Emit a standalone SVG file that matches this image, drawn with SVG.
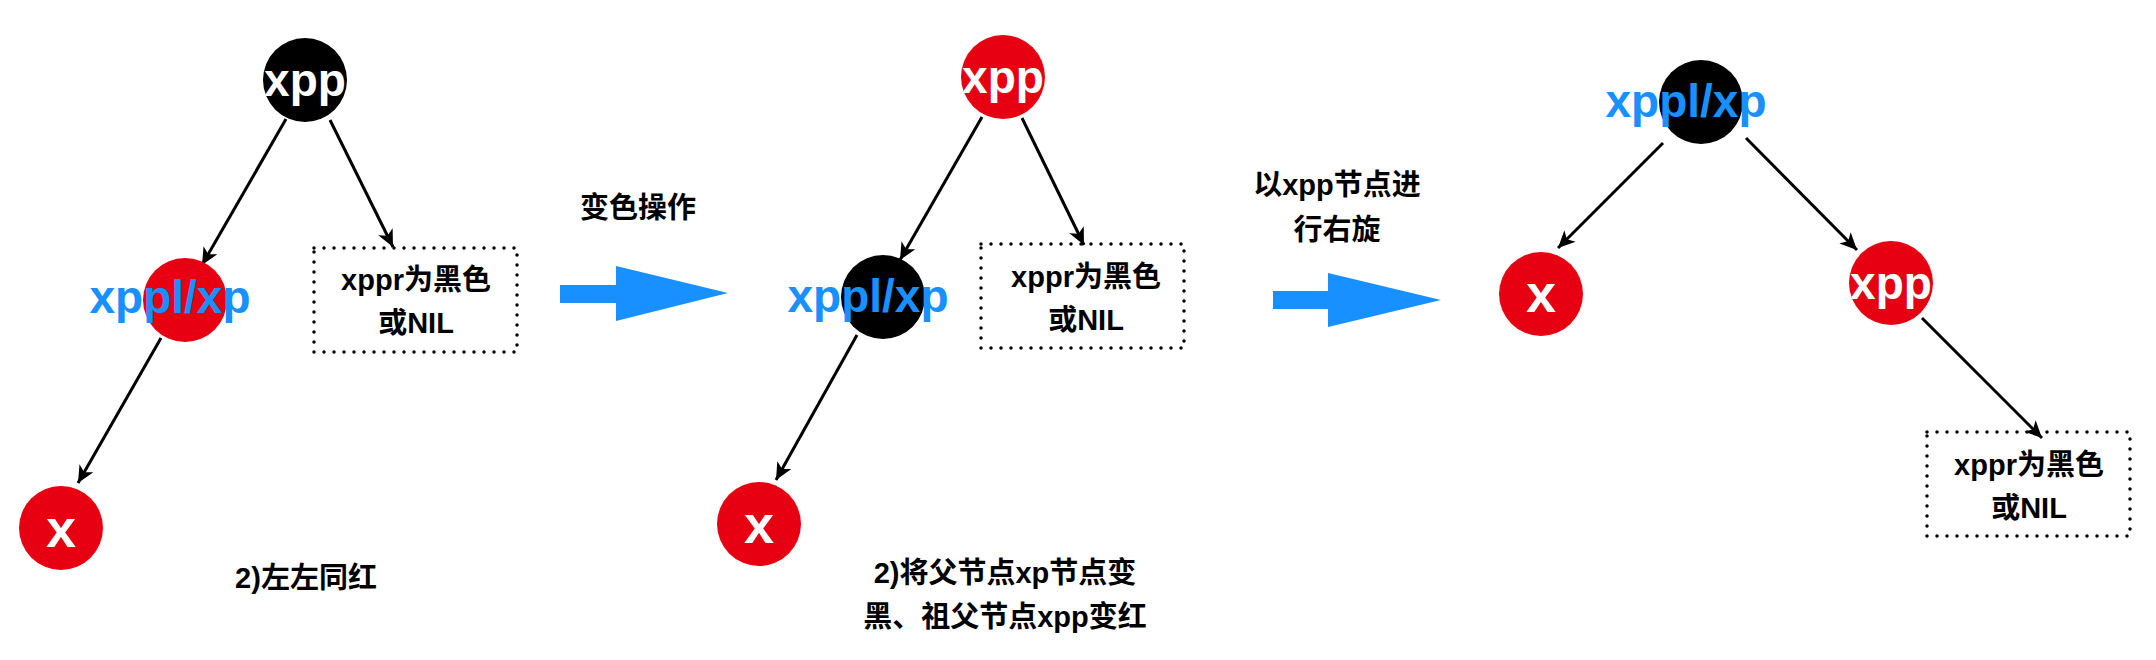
<svg xmlns="http://www.w3.org/2000/svg" width="2156" height="660" viewBox="0 0 2156 660">
<defs>
<style>
.t{font-family:"Liberation Sans","Noto Sans CJK SC",sans-serif;font-weight:bold;text-anchor:middle}
.lbl{font-size:46px}
.w{fill:#ffffff}
.b{fill:#1890ff}
.k{fill:#000000;font-size:29px}
.red{fill:#e60012}
.blk{fill:#000000}
.box{fill:none;stroke:#000;stroke-width:3.5;stroke-dasharray:0 10;stroke-linecap:round}
.edge{stroke:#000;stroke-width:3;fill:none;marker-end:url(#ah)}
.big{fill:#1890ff}
</style>
<marker id="ah" markerUnits="userSpaceOnUse" markerWidth="20" markerHeight="16" refX="17" refY="8" orient="auto">
<path d="M0,0 L17,8 L0,16 L4.5,8 z" fill="#000"/>
</marker>
</defs>
<rect width="2156" height="660" fill="#ffffff"/>

<g id="connectors">
<line class="edge" x1="286" y1="119" x2="202" y2="265"/>
<line class="edge" x1="330" y1="120" x2="393" y2="247"/>
<line class="edge" x1="161" y1="338" x2="78" y2="483"/>
<line class="edge" x1="982" y1="117" x2="900" y2="260"/>
<line class="edge" x1="1022" y1="118" x2="1084" y2="245"/>
<line class="edge" x1="857" y1="335" x2="776" y2="480"/>
<line class="edge" x1="1663" y1="143" x2="1558" y2="248"/>
<line class="edge" x1="1746" y1="138" x2="1857" y2="250"/>
<line class="edge" x1="1922" y1="318" x2="2042" y2="438"/>
</g>

<!-- Panel 1 -->
<g id="p1-xpp">
<circle class="blk" cx="305" cy="80" r="42"/>
<text class="t lbl w" x="305" y="96">xpp</text>
</g>
<g id="p1-xp">
<circle class="red" cx="185" cy="300" r="42"/>
<text class="t lbl b" x="170" y="313">xppl/xp</text>
</g>
<g id="p1-xppr">
<rect class="box" x="314" y="248" width="203" height="104"/>
<text class="t k" x="416" y="290">xppr为黑色</text>
<text class="t k" x="416" y="333">或NIL</text>
</g>
<g id="p1-x">
<circle class="red" cx="61" cy="528" r="42"/>
<text class="t w" style="font-size:54px" x="61" y="547">x</text>
</g>
<text class="t k" x="306" y="588">2)左左同红</text>

<!-- transition 1 -->
<g id="arrow1">
<rect class="big" x="560" y="285" width="57" height="18"/>
<polygon class="big" points="616,266 616,321 728,293"/>
</g>
<text class="t k" x="638" y="218">变色操作</text>

<!-- Panel 2 -->
<g id="p2-xpp">
<circle class="red" cx="1003" cy="77" r="42"/>
<text class="t lbl w" x="1003" y="93">xpp</text>
</g>
<g id="p2-xp">
<circle class="blk" cx="883" cy="297" r="42"/>
<text class="t lbl b" x="868" y="312">xppl/xp</text>
</g>
<g id="p2-xppr">
<rect class="box" x="981" y="244" width="203" height="104"/>
<text class="t k" x="1086" y="287">xppr为黑色</text>
<text class="t k" x="1086" y="330">或NIL</text>
</g>
<g id="p2-x">
<circle class="red" cx="759" cy="524" r="42"/>
<text class="t w" style="font-size:54px" x="759" y="543">x</text>
</g>
<text class="t k" x="1005" y="583">2)将父节点xp节点变</text>
<text class="t k" x="1005" y="627">黑、祖父节点xpp变红</text>

<!-- transition 2 -->
<g id="arrow2">
<rect class="big" x="1273" y="291" width="56" height="18"/>
<polygon class="big" points="1328,273 1328,327 1441,300"/>
</g>
<text class="t k" x="1337" y="195">以xpp节点进</text>
<text class="t k" x="1337" y="240">行右旋</text>

<!-- Panel 3 -->
<g id="p3-xp">
<circle class="blk" cx="1701" cy="102" r="42"/>
<text class="t lbl b" x="1686" y="117">xppl/xp</text>
</g>
<g id="p3-x">
<circle class="red" cx="1541" cy="294" r="42"/>
<text class="t w" style="font-size:54px" x="1541" y="312">x</text>
</g>
<g id="p3-xpp">
<circle class="red" cx="1891" cy="283" r="42"/>
<text class="t lbl w" x="1891" y="299">xpp</text>
</g>
<g id="p3-xppr">
<rect class="box" x="1927" y="432" width="203" height="104"/>
<text class="t k" x="2029" y="475">xppr为黑色</text>
<text class="t k" x="2029" y="518">或NIL</text>
</g>
</svg>
